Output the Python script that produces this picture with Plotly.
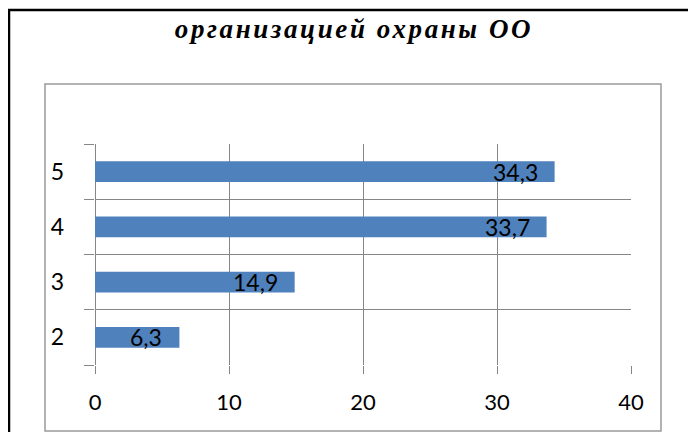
import plotly.graph_objects as go

categories = ["2", "3", "4", "5"]
values = [6.3, 14.9, 33.7, 34.3]
x_ticks = [0, 10, 20, 30, 40]
title_text = "организацией охраны ОО"

# the page body has an 8px margin, so the figure is drawn 8px in from the top-left
OFF = 8
W, H = 696 - OFF, 432 - OFF
L, R, T, B = 95 - OFF, 631 - OFF, 144 - OFF, 365 - OFF  # plot area in figure pixels


def px(x):
    return (x - OFF - L) / (R - L)


def py(y):
    return (B - (y - OFF)) / (B - T)


GRID = "#868686"
FONT = "Lato"

fig = go.Figure()
fig.add_trace(go.Bar(
    y=categories, x=values, orientation="h",
    marker=dict(color="#4F81BD", line=dict(width=0)),
    width=0.38, hoverinfo="skip",
))

for i, v in enumerate(values):
    fig.add_annotation(
        x=v, y=i, xref="x", yref="y",
        text=f"{v:.1f}".replace(".", ","),
        showarrow=False, xanchor="right", yanchor="middle",
        xshift=-15, font=dict(family=FONT, size=23, color="black"),
    )

shapes = [
    dict(type="line", xref="paper", yref="paper", x0=px(8), x1=px(700), y0=py(10), y1=py(10),
         line=dict(color="black", width=2.5)),
    dict(type="line", xref="paper", yref="paper", x0=px(9), x1=px(9), y0=py(10), y1=py(440),
         line=dict(color="black", width=2.5)),
    dict(type="rect", xref="paper", yref="paper", x0=px(45), x1=px(661), y0=py(84), y1=py(431),
         line=dict(color="#9a9a9a", width=1.5), fillcolor="rgba(0,0,0,0)", layer="below"),
]

fig.update_layout(
    width=W, height=H,
    margin=dict(l=L, r=W - R, t=T, b=H - B, pad=0),
    paper_bgcolor="white", plot_bgcolor="white",
    showlegend=False,
    title=dict(text='<span style="letter-spacing:2.6px">' + title_text + '</span>',
               x=(354 - OFF) / W, xref="container", xanchor="center",
               y=1 - (29 - OFF) / H, yref="container", yanchor="middle",
               font=dict(family="Liberation Serif", size=27, color="black",
                         weight="bold", style="italic")),
    shapes=shapes,
    xaxis=dict(range=[0, 40], tickvals=x_ticks, ticks="outside", ticklen=8, tickcolor=GRID,
               tickwidth=1.3, showgrid=True, gridcolor=GRID, gridwidth=1.3,
               zeroline=True, zerolinecolor=GRID, zerolinewidth=1.3,
               showline=False, ticklabelstandoff=10,
               tickfont=dict(family=FONT, size=22, color="black")),
    yaxis=dict(type="category", categoryorder="array", categoryarray=categories,
               range=[-0.5, 3.5],
               tickson="boundaries", ticks="outside", ticklen=10, tickcolor=GRID, tickwidth=1.3,
               showgrid=True, gridcolor=GRID, gridwidth=1.3, showline=False,
               ticklabelstandoff=30,
               tickfont=dict(family=FONT, size=23, color="black")),
)

fig.write_html("out.html")
